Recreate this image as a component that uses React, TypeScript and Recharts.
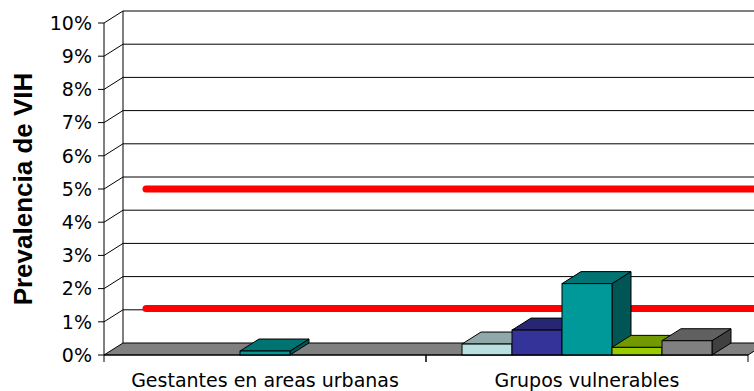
import {
  BarChart,
  Bar,
  XAxis,
  YAxis,
  CartesianGrid,
  ReferenceLine,
} from 'recharts';

const categories = ['Gestantes en areas urbanas', 'Grupos vulnerables'];
const grupo1 = [0, 0.33];
const grupo2 = [0, 0.75];
const grupo3 = [0.12, 2.15];
const grupo4 = [0, 0.23];
const grupo5 = [0, 0.43];
const lineaAlta = 5;
const lineaBaja = 1.4;
const yTicks = [0, 1, 2, 3, 4, 5, 6, 7, 8, 9, 10];

const series = [
  { key: 'g1', values: grupo1, front: '#b8e0e0', top: '#8fa9a9', side: '#6e8a8a' },
  { key: 'g2', values: grupo2, front: '#333399', top: '#262673', side: '#1a1a4d' },
  { key: 'g3', values: grupo3, front: '#009999', top: '#007373', side: '#005555' },
  { key: 'g4', values: grupo4, front: '#99cc00', top: '#739900', side: '#4d6600' },
  { key: 'g5', values: grupo5, front: '#808080', top: '#606060', side: '#404040' },
];

const data = categories.map((name, i) => {
  const row: Record<string, string | number> = { name };
  series.forEach(s => (row[s.key] = s.values[i]));
  return row;
});

// depth of the fake 3d
const DX = 19;
const DY = 12;
const TEXT = 'DejaVu Sans';

function GridLine(p: any) {
  const { x1, y1, x2, y, height } = p;
  if (Math.abs(y1 - (y + height)) < 1) {
    const pts = `${x1},${y1} ${x1 + DX},${y1 - DY} ${x2 + DX},${y1 - DY} ${x2},${y1}`;
    return <polygon points={pts} fill="#808080" stroke="#000" strokeWidth={1} />;
  }
  return (
    <g>
      <line x1={x1} y1={y1} x2={x1 + DX} y2={y1 - DY} stroke="#000" />
      <line x1={x1 + DX} y1={y1 - DY} x2={x2 + DX} y2={y1 - DY} stroke="#000" />
      {Math.abs(y1 - y) < 1 && (
        <line x1={x1 + DX} y1={y1 - DY} x2={x1 + DX} y2={y + height - DY} stroke="#000" />
      )}
    </g>
  );
}

function Box3D(props: any, front: string, top: string, side: string) {
  const { x, y, width: w, height: h } = props;
  if (!h || h <= 0) return <g />;
  const topPts = `${x},${y} ${x + DX},${y - DY} ${x + w + DX},${y - DY} ${x + w},${y}`;
  const sidePts = `${x + w},${y} ${x + w + DX},${y - DY} ${x + w + DX},${y + h - DY} ${x + w},${y + h}`;
  return (
    <g>
      <polygon points={sidePts} fill={side} stroke="#000" strokeWidth={1} />
      <polygon points={topPts} fill={top} stroke="#000" strokeWidth={1} />
      <rect x={x} y={y} width={w} height={h} fill={front} stroke="#000" strokeWidth={1} />
    </g>
  );
}

function RedLine(p: any) {
  const { x1, y1, x2 } = p;
  return (
    <line x1={x1 + 42} y1={y1} x2={x2 + DX} y2={y1} stroke="#ff0000" strokeWidth={7} strokeLinecap="round" />
  );
}

function CatTick(p: any) {
  const { x, y, payload } = p;
  const half = payload?.offset ?? 161;
  return (
    <g>
      <line x1={x - half} y1={y} x2={x - half} y2={y + 7} stroke="#000" />
      <line x1={x + half} y1={y} x2={x + half} y2={y + 7} stroke="#000" />
      <text x={x} y={y + 32} textAnchor="middle" fill="#000" fontSize={19} fontFamily={TEXT}>
        {payload.value}
      </text>
    </g>
  );
}

function YLabel(p: any) {
  const { x, y, height } = p.viewBox;
  const cx = x + 23;
  const cy = y + height / 2;
  return (
    <text
      x={cx}
      y={cy}
      dy="0.35em"
      transform={`rotate(-90 ${cx} ${cy})`}
      textAnchor="middle"
      fill="#000"
      fontSize={26}
      fontWeight="bold"
      fontFamily="Liberation Sans"
    >
      Prevalencia de VIH
    </text>
  );
}

export default function App() {
  return (
    <div style={styles.wrap}>
      <BarChart
        width={782}
        height={391}
        data={data}
        margin={{ top: 23, right: 34, left: 0, bottom: 0 }}
        barSize={50}
        barGap={0}
      >
        <CartesianGrid horizontal={(p: any) => <GridLine {...p} />} vertical={false} />
        <XAxis
          dataKey="name"
          height={36}
          axisLine={{ stroke: '#000' }}
          tickLine={false}
          tickSize={0}
          tickMargin={0}
          tick={(p: any) => <CatTick {...p} />}
          interval={0}
        />
        <YAxis
          width={104}
          domain={[0, 10]}
          ticks={yTicks}
          interval={0}
          tickFormatter={v => `${v}%`}
          axisLine={{ stroke: '#000' }}
          tickLine={{ stroke: '#000' }}
          tickSize={6}
          tickMargin={6}
          tick={{ fill: '#000', fontSize: 19, fontFamily: TEXT }}
          label={(p: any) => <YLabel {...p} />}
        />
        <ReferenceLine y={lineaAlta} shape={(p: any) => <RedLine {...p} />} zIndex={250} />
        <ReferenceLine y={lineaBaja} shape={(p: any) => <RedLine {...p} />} zIndex={250} />
        {series.map(s => (
          <Bar
            key={s.key}
            dataKey={s.key}
            isAnimationActive={false}
            shape={(p: any) => Box3D(p, s.front, s.top, s.side)}
          />
        ))}
      </BarChart>
    </div>
  );
}

const styles: Record<string, React.CSSProperties> = {
  wrap: {
    position: 'absolute',
    left: 0,
    top: 0,
    width: 754,
    height: 391,
    overflow: 'hidden',
    background: '#fff',
  },
};
